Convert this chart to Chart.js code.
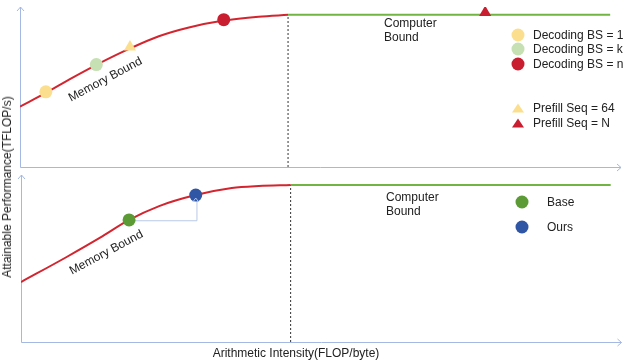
<!DOCTYPE html>
<html><head><meta charset="utf-8">
<script src="https://cdn.jsdelivr.net/npm/chart.js@4/dist/chart.umd.min.js"></script>
<style>
html,body{margin:0;padding:0;background:#fff;}
#wrap{position:relative;width:628px;height:360px;overflow:hidden;font-family:"Liberation Sans",Arial,Helvetica,sans-serif;color:#222;}
canvas{position:absolute;left:0;top:0;}
.t{position:absolute;font-size:12px;line-height:14px;white-space:nowrap;}
.c{transform:translate(-50%,-50%);}
.dot{position:absolute;width:13px;height:13px;border-radius:50%;transform:translate(-50%,-50%);}
.tri{position:absolute;width:0;height:0;border-left:6px solid transparent;border-right:6px solid transparent;transform:translate(-50%,-50%);}
</style></head>
<body><div id="wrap">
<canvas id="top" width="628" height="360"></canvas>
<canvas id="bot" width="628" height="360"></canvas>

<div class="t c" style="left:7px;top:187px;transform:translate(-50%,-50%) rotate(-90deg);">Attainable Performance(TFLOP/s)</div>
<div class="t c" style="left:296px;top:353px;">Arithmetic Intensity(FLOP/byte)</div>

<div class="t c" style="left:105px;top:79px;transform:translate(-50%,-50%) rotate(-28deg);">Memory Bound</div>
<div class="t c" style="left:106px;top:252px;transform:translate(-50%,-50%) rotate(-28deg);">Memory Bound</div>
<div class="t" style="left:384px;top:16px;">Computer<br>Bound</div>
<div class="t" style="left:386px;top:190px;">Computer<br>Bound</div>

<div class="dot" style="left:518px;top:35px;background:#fcdf8e;"></div>
<div class="t" style="left:533px;top:28px;">Decoding BS = 1</div>
<div class="dot" style="left:518px;top:49px;background:#c6e0b4;"></div>
<div class="t" style="left:533px;top:42px;">Decoding BS = k</div>
<div class="dot" style="left:518px;top:64px;background:#c81e30;"></div>
<div class="t" style="left:533px;top:57px;">Decoding BS = n</div>
<div class="tri" style="left:518px;top:108px;border-bottom:9px solid #fcdf8e;"></div>
<div class="t" style="left:533px;top:101px;">Prefill Seq = 64</div>
<div class="tri" style="left:518px;top:123px;border-bottom:9px solid #c81e30;"></div>
<div class="t" style="left:533px;top:116px;">Prefill Seq = N</div>

<div class="dot" style="left:522px;top:202px;background:#5b9a34;"></div>
<div class="t" style="left:547px;top:195px;">Base</div>
<div class="dot" style="left:522px;top:227px;background:#2f55a5;"></div>
<div class="t" style="left:547px;top:220px;">Ours</div>
</div>
<script>
// ---- Top panel data (arbitrary units, x: 0-100, y: 0-100) ----
const topCurveX = [0, 4.3, 8.3, 12.8, 18.5, 23.1, 28.1, 33.9, 39.7, 44.6];
const topCurveY = [37.8, 46.3, 54.9, 64.0, 74.4, 81.7, 87.2, 91.5, 93.9, 95.1];
const topRidgeX = 44.6;
const topCeilingY = 95.1;
const topCeilingEndX = 98.2;
const decodingLabels = ["Decoding BS = 1", "Decoding BS = k", "Decoding BS = n"];
const decodingX = [4.3, 12.7, 33.9];
const decodingY = [47.0, 64.0, 92.1];
const prefillLabels = ["Prefill Seq = 64", "Prefill Seq = N"];
const prefillX = [18.3, 77.4];
const prefillY = [75.0, 96.5];

// ---- Bottom panel data ----
const botCurveX = [0, 7.6, 13.1, 18.0, 23.0, 29.1, 35.1, 39.6, 44.9];
const botCurveY = [35.9, 50.9, 62.3, 73.1, 81.4, 88.0, 92.2, 93.4, 94.0];
const botRidgeX = 44.9;
const botCeilingY = 94.0;
const botCeilingEndX = 98.2;
const methodLabels = ["Base", "Ours"];
const methodX = [18.0, 29.1];
const methodY = [73.1, 88.0];

const AXIS = '#a3b8e2';
const RED = '#d3252f';
const GREEN = '#72b443';

function pts(xs, ys){ return xs.map((x,i)=>({x:x,y:ys[i]})); }

const axesPlugin = {
  id:'axesArrows',
  beforeDatasetsDraw(chart){
    const {ctx, chartArea:a} = chart;
    ctx.save();
    ctx.strokeStyle = AXIS; ctx.lineWidth = 1;
    ctx.beginPath();
    ctx.moveTo(a.left+0.5, a.bottom+0.5); ctx.lineTo(a.left+0.5, a.top);
    ctx.moveTo(a.left+0.5, a.bottom+0.5); ctx.lineTo(a.right, a.bottom+0.5);
    ctx.moveTo(a.left-3, a.top+4); ctx.lineTo(a.left+0.5, a.top); ctx.lineTo(a.left+4, a.top+4);
    ctx.moveTo(a.right-4, a.bottom-3); ctx.lineTo(a.right, a.bottom+0.5); ctx.lineTo(a.right-4, a.bottom+4);
    ctx.stroke();
    ctx.restore();
  }
};

const connectorArrow = {
  id:'connectorArrow',
  afterDatasetsDraw(chart, args, opts){
    if(!opts.enabled) return;
    const xs = chart.scales.x, ys = chart.scales.y;
    const x = xs.getPixelForValue(methodX[1]);
    const y = ys.getPixelForValue(methodY[1]) + 3;
    const ctx = chart.ctx;
    ctx.save();
    ctx.strokeStyle = '#b8c9e6'; ctx.lineWidth = 1;
    ctx.beginPath();
    ctx.moveTo(x-3, y+4); ctx.lineTo(x, y); ctx.lineTo(x+3, y+4);
    ctx.stroke();
    ctx.restore();
  }
};

function baseOptions(pad){
  return {
    responsive:false, animation:false,
    layout:{padding:pad},
    plugins:{legend:{display:false}, tooltip:{enabled:false}},
    scales:{
      x:{type:'linear', min:0, max:100, display:false},
      y:{type:'linear', min:0, max:100, display:false}
    },
    elements:{point:{radius:0, hoverRadius:0}}
  };
}

const topOpts = baseOptions({left:20, right:3, top:3, bottom:193});
topOpts.plugins.connectorArrow = {enabled:false};
new Chart(document.getElementById('top'), {
  type:'scatter',
  data:{datasets:[
    {type:'line', data:[{x:topRidgeX,y:0},{x:topRidgeX,y:topCeilingY}], borderColor:'#333', borderWidth:1, borderDash:[2,2], pointRadius:0, order:5},
    {type:'line', data:pts(topCurveX, topCurveY), borderColor:RED, borderWidth:2, cubicInterpolationMode:'monotone', pointRadius:0, order:4},
    {type:'line', data:[{x:topRidgeX,y:topCeilingY},{x:topCeilingEndX,y:topCeilingY}], borderColor:GREEN, borderWidth:2, pointRadius:0, order:4},
    {label:decodingLabels.join(', '), data:pts(decodingX, decodingY), pointStyle:'circle', pointRadius:6.5,
      backgroundColor:['#fcdf8e','#c6e0b4','#c81e30'], borderWidth:0, order:1},
    {label:prefillLabels.join(', '), data:pts(prefillX, prefillY), pointStyle:'triangle', pointRadius:[7,7],
      backgroundColor:['#fcdf8e','#c81e30'], borderWidth:0, order:1}
  ]},
  options:topOpts,
  plugins:[axesPlugin, connectorArrow]
});

const botOpts = baseOptions({left:21, right:3, top:175, bottom:18});
botOpts.plugins.connectorArrow = {enabled:true};
new Chart(document.getElementById('bot'), {
  type:'scatter',
  data:{datasets:[
    {type:'line', data:[{x:botRidgeX,y:0},{x:botRidgeX,y:botCeilingY}], borderColor:'#333', borderWidth:1, borderDash:[2,2], pointRadius:0, order:5},
    {type:'line', data:pts(botCurveX, botCurveY), borderColor:RED, borderWidth:2, cubicInterpolationMode:'monotone', pointRadius:0, order:4},
    {type:'line', data:[{x:botRidgeX,y:botCeilingY},{x:botCeilingEndX,y:botCeilingY}], borderColor:GREEN, borderWidth:2, pointRadius:0, order:4},
    {type:'line', data:[{x:methodX[0],y:methodY[0]-0.5},{x:methodX[1]+0.2,y:methodY[0]-0.5},{x:methodX[1]+0.2,y:methodY[1]-2}],
      borderColor:'#b8c9e6', borderWidth:1, pointRadius:0, order:3},
    {label:methodLabels.join(', '), data:pts(methodX, methodY), pointStyle:'circle', pointRadius:6.5,
      backgroundColor:['#5b9a34','#2f55a5'], borderWidth:0, order:1}
  ]},
  options:botOpts,
  plugins:[axesPlugin, connectorArrow]
});
</script>
</body></html>
